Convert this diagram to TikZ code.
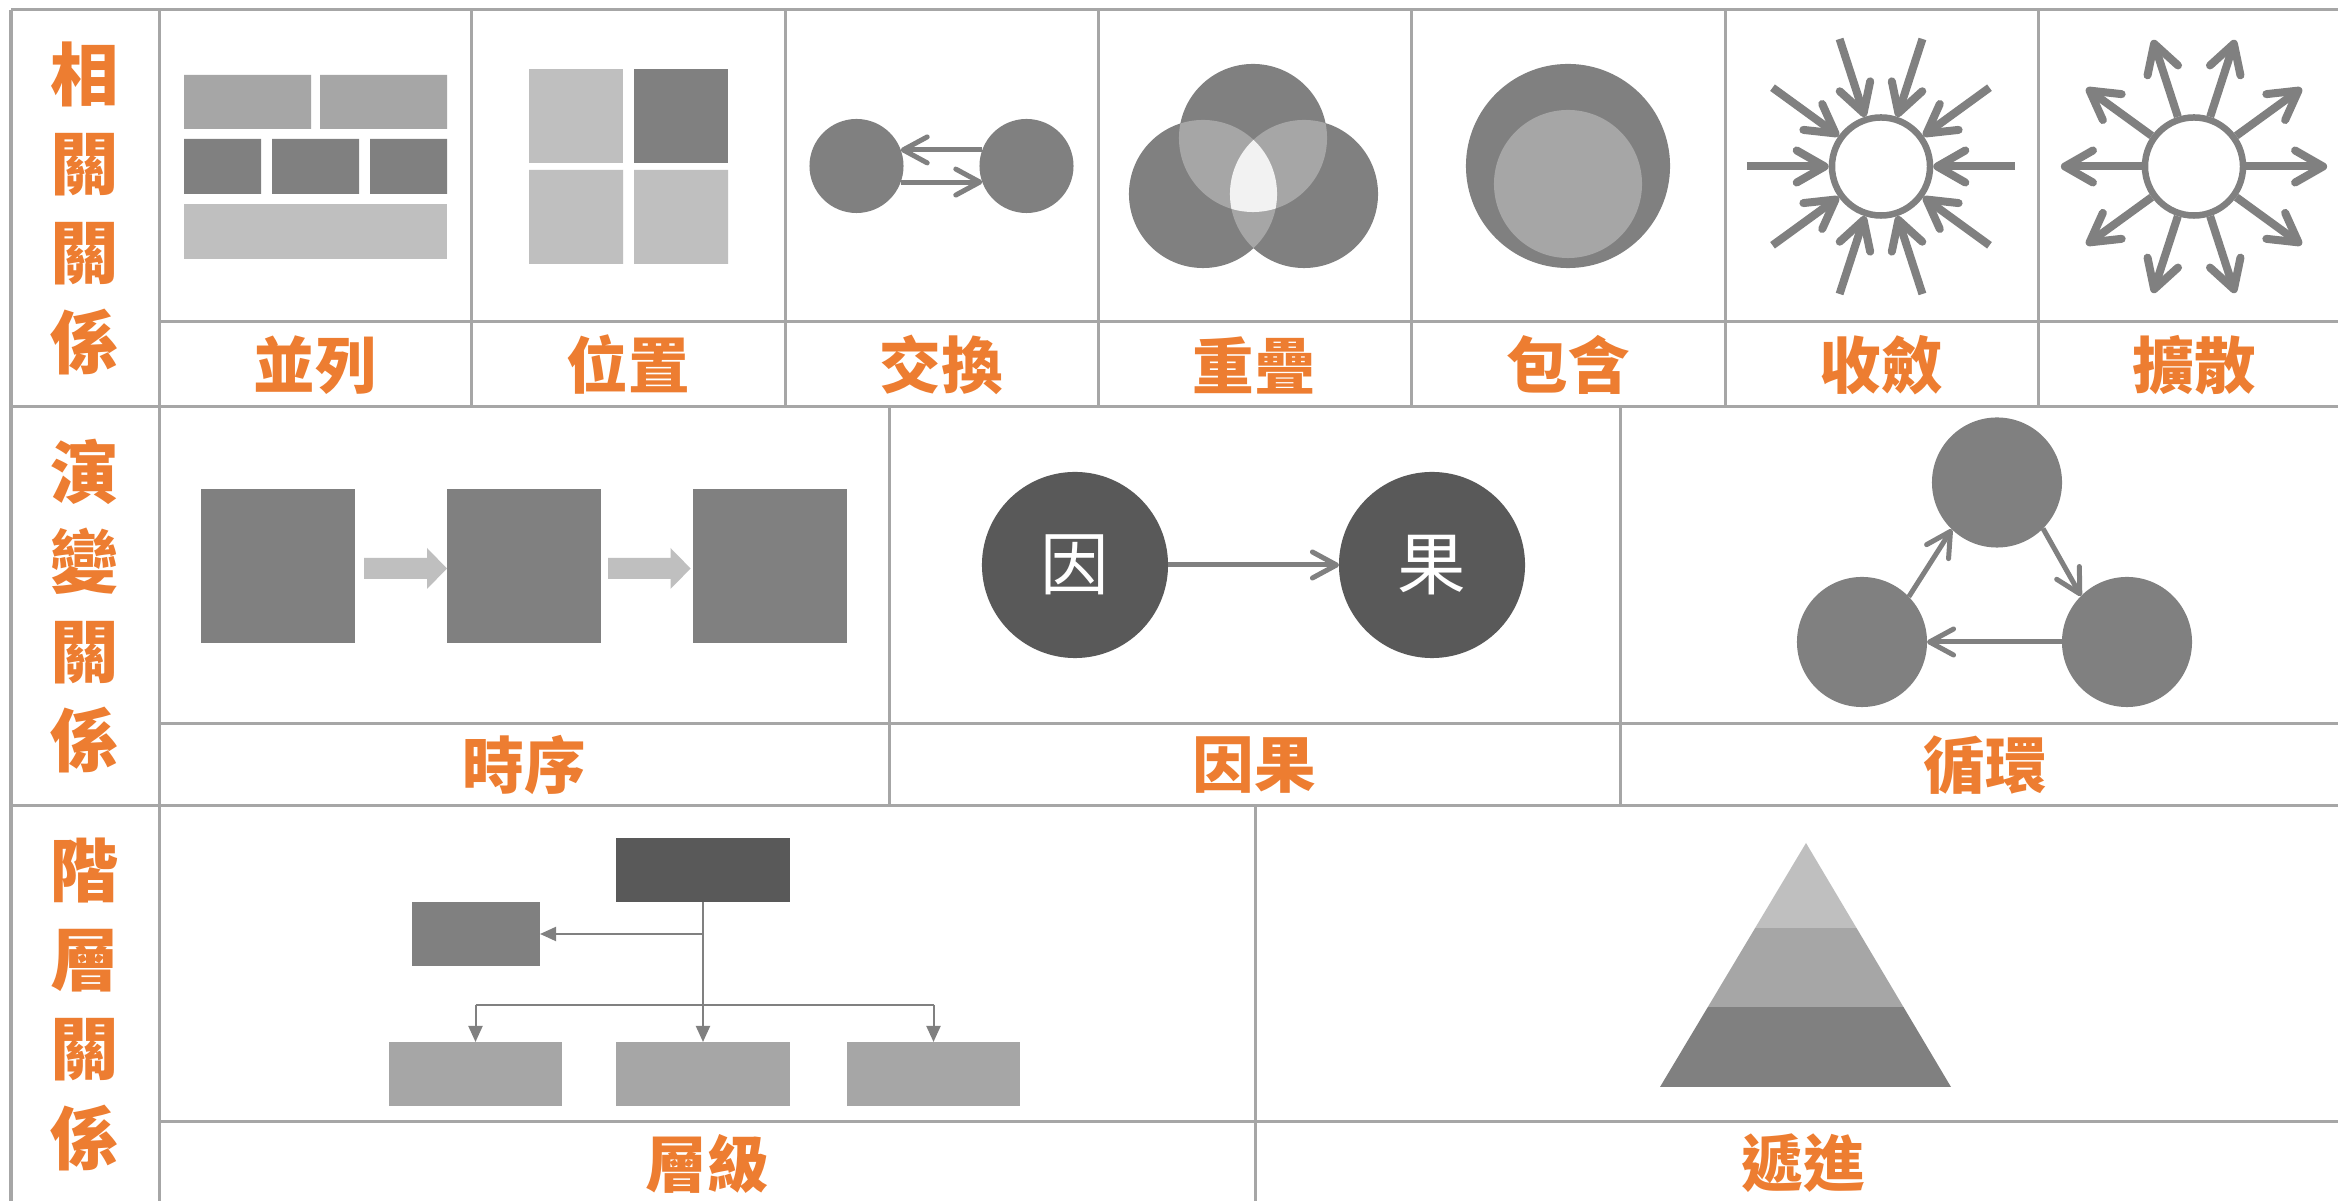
\documentclass[tikz,border=0pt]{standalone}
\usepackage{fontspec}
\newfontfamily\cjk{Noto Sans CJK TC}
\usetikzlibrary{arrows.meta,calc}
\definecolor{orangeA}{HTML}{ED7D31}
\definecolor{gridc}{HTML}{A6A6A6}
\definecolor{gA}{HTML}{808080}
\definecolor{gB}{HTML}{A6A6A6}
\definecolor{gC}{HTML}{BFBFBF}
\definecolor{gD}{HTML}{595959}
\definecolor{gE}{HTML}{F2F2F2}
\begin{document}
\begin{tikzpicture}[x=0.01cm,y=-0.01cm,
  gridline/.style={draw=gridc, line width=0.03cm},
  hdr/.style={text=orangeA, font=\cjk\bfseries\fontsize{19.5}{25.4}\selectfont, align=center, inner sep=0},
  lbl/.style={text=orangeA, font=\cjk\bfseries\fontsize{17.5}{20}\selectfont, inner sep=0},
  barb/.style={draw=gA, line width=0.05cm, -{Straight Barb[length=0.24cm,width=0.26cm,round]}},
  sbarb/.style={draw=gA, line width=0.08cm, -{Straight Barb[length=0.28cm,width=0.32cm,round]}},
  orgarr/.style={draw=gA, line width=0.02cm, -{Triangle[length=0.16cm,width=0.14cm]}},
  orgline/.style={draw=gA, line width=0.02cm},
  disc/.style={circle, fill=gA, inner sep=0, outer sep=0},
  ring/.style={circle, draw=gA, fill=white, line width=0.065cm, inner sep=0, minimum size=0.98cm},
  box/.style={rectangle, inner sep=0, outer sep=0}
]
\useasboundingbox (0,0) rectangle (2338,1201);
\clip (0,0) rectangle (2338,1201);
\fill[white] (0,0) rectangle (2338,1201);

% ---------- grid ----------
\draw[gridline] (11,10) -- (2360,10);
\draw[gridline] (11,407) -- (2360,407);
\draw[gridline] (11,806) -- (2360,806);
\draw[gridline] (159,322) -- (2360,322);
\draw[gridline] (159,724) -- (2360,724);
\draw[gridline] (159,1122) -- (2360,1122);
\draw[gridline] (11,10) -- (11,1220);
\draw[gridline] (159,10) -- (159,1220);
\foreach \xx in {471,785,1098,1411,1725,2038} \draw[gridline] (\xx,10) -- (\xx,407);
\foreach \xx in {889,1620} \draw[gridline] (\xx,407) -- (\xx,806);
\draw[gridline] (1255,806) -- (1255,1220);

% ---------- row headers ----------
\node[hdr] (h1) at (85,208) {相\\關\\關\\係};
\node[hdr] (h2) at (85,606) {演\\變\\關\\係};
\node[hdr] (h3) at (85,1004) {階\\層\\關\\係};

% ---------- labels ----------
\node[lbl] (l1) at (315,365) {並列};
\node[lbl] (l2) at (628,365) {位置};
\node[lbl] (l3) at (941.5,365) {交換};
\node[lbl] (l4) at (1254.5,365) {重疊};
\node[lbl] (l5) at (1568,365) {包含};
\node[lbl] (l6) at (1881.5,365) {收斂};
\node[lbl] (l7) at (2194.5,365) {擴散};
\node[lbl] (l8) at (524,765) {時序};
\node[lbl] (l9) at (1254.5,765) {因果};
\node[lbl] (l10) at (1985.5,765) {循環};
\node[lbl] (l11) at (707,1163.5) {層級};
\node[lbl] (l12) at (1803,1163.5) {遞進};

% ---------- 並列 ----------
\fill[gB] (184,75) rectangle (311,129) (320,75) rectangle (447,129);
\fill[gA] (184,139) rectangle (261,194) (272,139) rectangle (359,194) (370,139) rectangle (447,194);
\fill[gC] (184,204) rectangle (447,259);

% ---------- 位置 ----------
\fill[gC] (529,69) rectangle (623,163);
\fill[gA] (634,69) rectangle (728,163);
\fill[gC] (529,170) rectangle (623,264) (634,170) rectangle (728,264);

% ---------- 交換 ----------
\node[disc, minimum size=0.94cm] (xl) at (856.5,166) {};
\node[disc, minimum size=0.94cm] (xr) at (1026.5,166) {};
\draw[barb] (xr.160) -- (xl.20);
\draw[barb] (xl.-20) -- (xr.200);

% ---------- 重疊 ----------
\fill[gA] (1253,138) circle[radius=0.74cm] (1203,194) circle[radius=0.74cm] (1304,194) circle[radius=0.74cm];
\begin{scope}
  \clip (1253,138) circle[radius=0.74cm];
  \fill[gB] (1203,194) circle[radius=0.74cm] (1304,194) circle[radius=0.74cm];
\end{scope}
\begin{scope}
  \clip (1203,194) circle[radius=0.74cm];
  \fill[gB] (1304,194) circle[radius=0.74cm];
\end{scope}
\begin{scope}
  \clip (1203,194) circle[radius=0.74cm];
  \clip (1304,194) circle[radius=0.74cm];
  \fill[gE] (1253,138) circle[radius=0.74cm];
\end{scope}

% ---------- 包含 ----------
\fill[gA] (1568,166) circle[radius=1.02cm];
\fill[gB] (1568,184) circle[radius=0.74cm];

% ---------- 收斂 ----------
\node[ring] (cv) at (1881,166.5) {};
\foreach \a [count=\i] in {0,36,...,324} {
  \coordinate (cvs\i) at ($(cv.center)+(\a:1.34cm)$);
  \draw[sbarb] (cvs\i) -- (cv.\a);
}

% ---------- 擴散 ----------
\node[ring] (dv) at (2194,166.5) {};
\foreach \a [count=\i] in {0,36,...,324} {
  \coordinate (dvs\i) at ($(dv.center)+(\a:1.33cm)$);
  \draw[sbarb] (dv.\a) -- (dvs\i);
}

% ---------- 時序 ----------
\node[box, fill=gA, minimum width=1.54cm, minimum height=1.54cm] (t1) at (278,566) {};
\node[box, fill=gA, minimum width=1.54cm, minimum height=1.54cm] (t2) at (524,566) {};
\node[box, fill=gA, minimum width=1.54cm, minimum height=1.54cm] (t3) at (770,566) {};
\fill[gC] (364,558) -- (427,558) -- (427,548) -- (447,568.5) -- (427,589) -- (427,579) -- (364,579) -- cycle;
\fill[gC] (608,558) -- (670.5,558) -- (670.5,548) -- (690.6,568.5) -- (670.5,589) -- (670.5,579) -- (608,579) -- cycle;

% ---------- 因果 ----------
\node[circle, fill=gD, inner sep=0, outer sep=0, minimum size=1.86cm, text=white, font=\cjk\fontsize{19.5}{20}\selectfont] (ca) at (1075,565) {因};
\node[circle, fill=gD, inner sep=0, outer sep=0, minimum size=1.86cm, text=white, font=\cjk\fontsize{19.5}{20}\selectfont] (cb) at (1432,565) {果};
\draw[barb] (ca.east) -- (cb.west);

% ---------- 循環 ----------
\node[disc, minimum size=1.3cm] (ct) at (1997,482.5) {};
\node[disc, minimum size=1.3cm] (cl) at (1862,642) {};
\node[disc, minimum size=1.3cm] (cr) at (2127,642) {};
\draw[barb] (cl.44) -- (ct.226);
\draw[barb] (ct.315) -- (cr.135);
\draw[barb] (cr.180) -- (cl.0);

% ---------- 層級 ----------
\node[box, fill=gD, minimum width=1.73cm, minimum height=0.64cm] (ot) at (703,870) {};
\node[box, fill=gA, minimum width=1.28cm, minimum height=0.64cm] (ol) at (476,934) {};
\node[box, fill=gB, minimum width=1.73cm, minimum height=0.64cm] (ob1) at (475.5,1074) {};
\node[box, fill=gB, minimum width=1.73cm, minimum height=0.64cm] (ob2) at (703,1074) {};
\node[box, fill=gB, minimum width=1.73cm, minimum height=0.64cm] (ob3) at (933.5,1074) {};
\coordinate (bus) at (703,1005);
\draw[orgarr] (ot.south) -- (ob2.north);
\draw[orgarr] (ot.south |- ol.east) -- (ol.east);
\draw[orgline] (ob1.north |- bus) -- (ob3.north |- bus);
\draw[orgarr] (ob1.north |- bus) -- (ob1.north);
\draw[orgarr] (ob3.north |- bus) -- (ob3.north);

% ---------- 遞進 ----------
\begin{scope}
  \clip (1806,843) -- (1951,1087) -- (1660,1087) -- cycle;
  \fill[gC] (1600,830) rectangle (2000,928);
  \fill[gB] (1600,928) rectangle (2000,1007);
  \fill[gA] (1600,1007) rectangle (2000,1090);
\end{scope}
\end{tikzpicture}
\end{document}
